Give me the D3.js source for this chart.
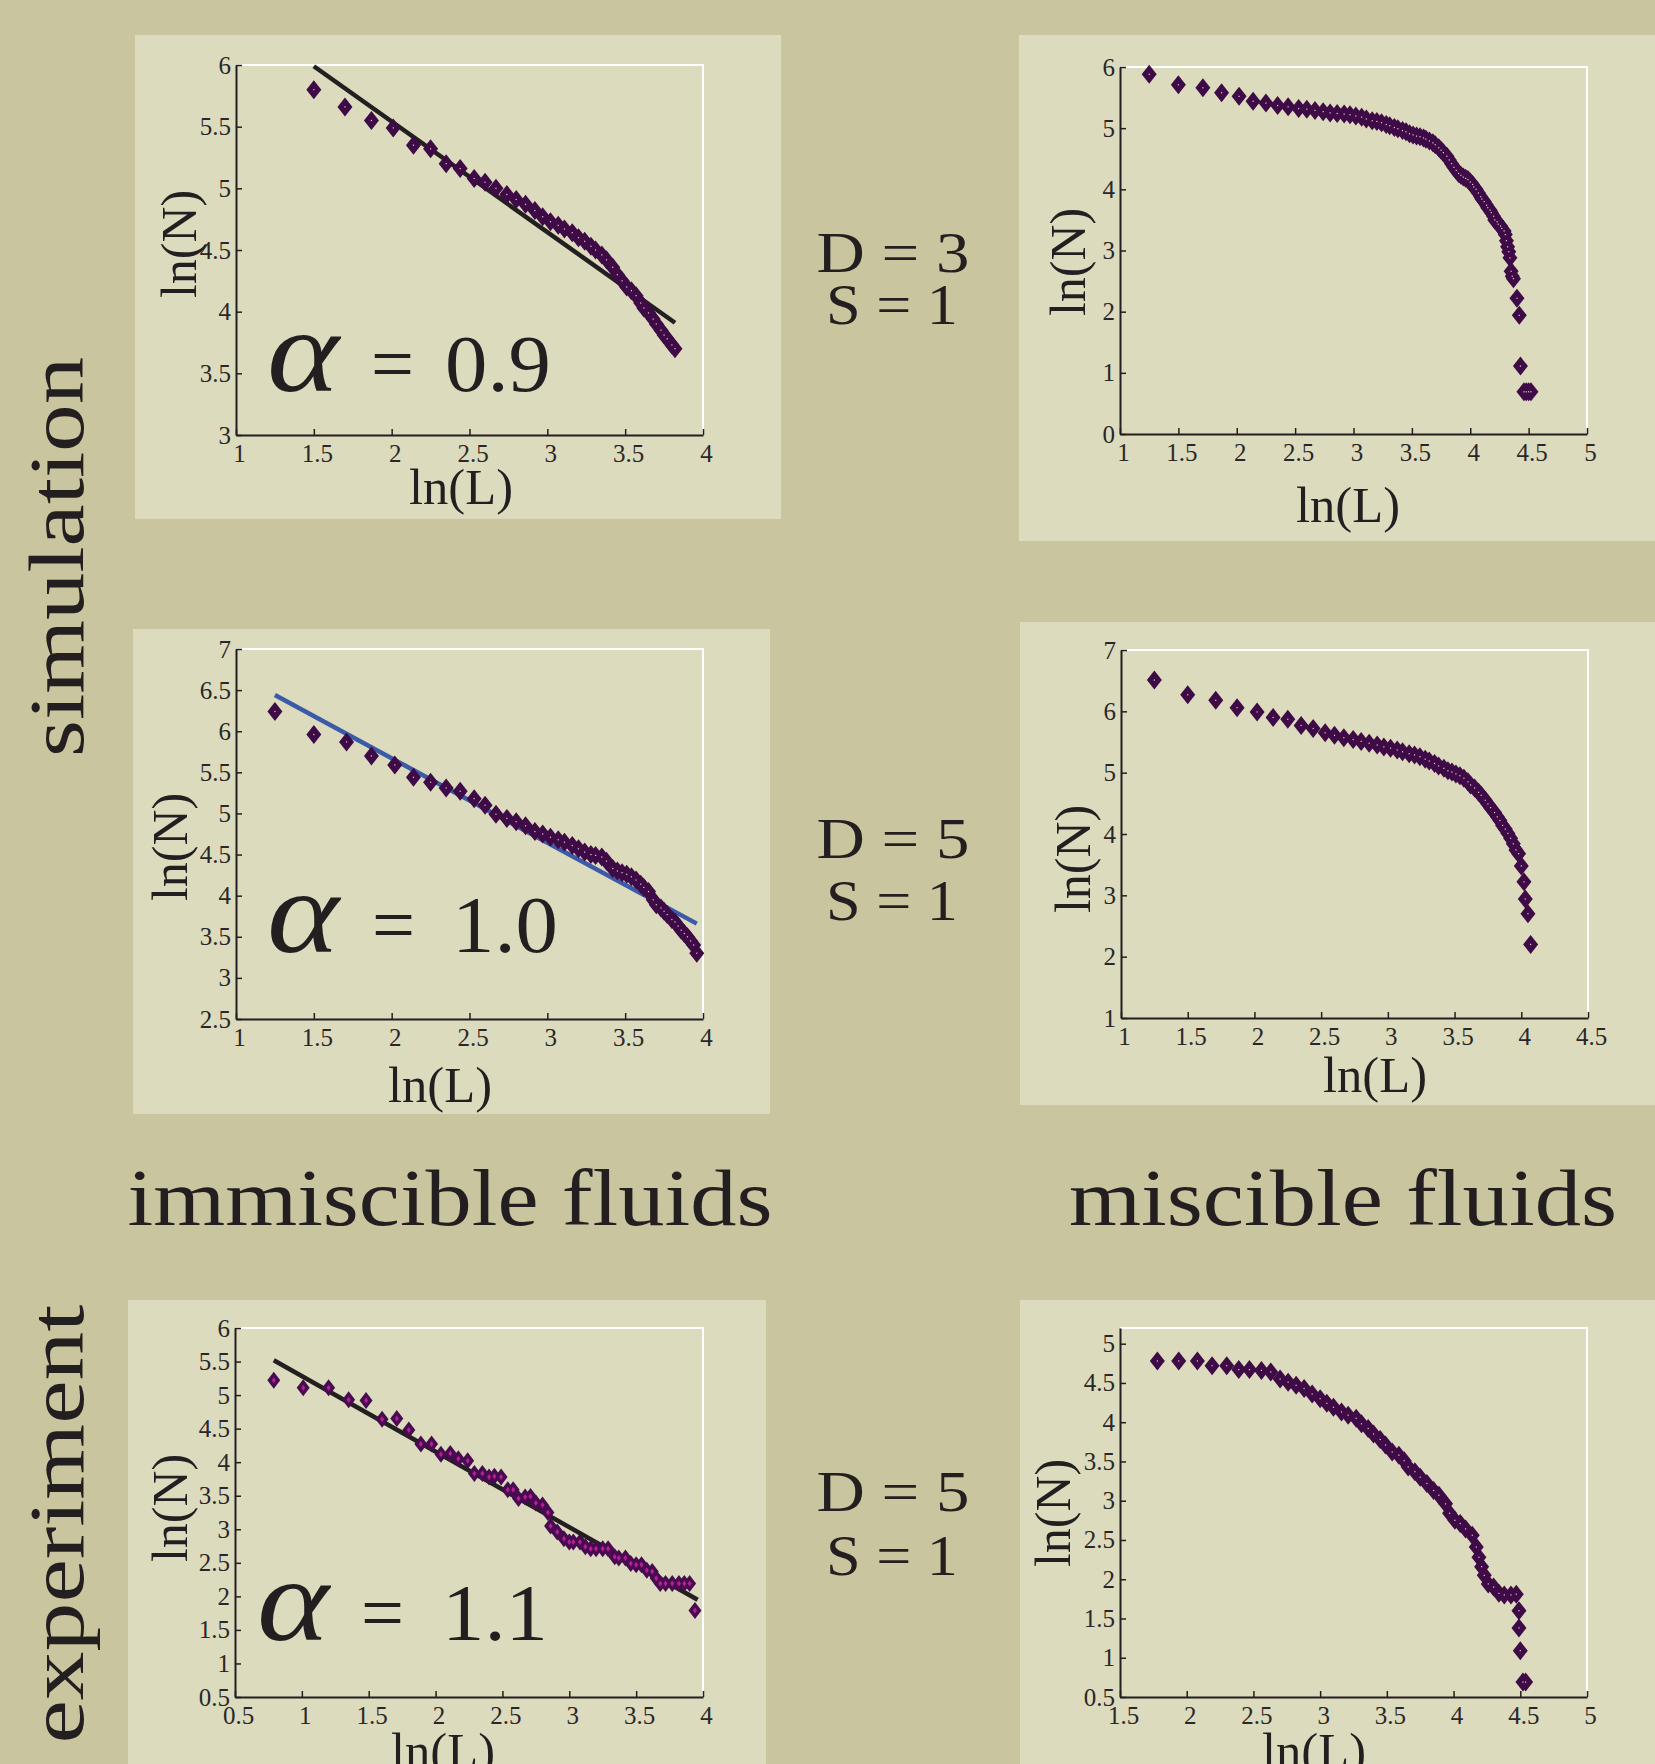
<!DOCTYPE html>
<html><head><meta charset="utf-8">
<script src="https://cdn.jsdelivr.net/npm/d3@7"></script>
<style>body{margin:0;background:#c9c69f;} svg{display:block}</style>
</head><body>
<svg id="c" width="1655" height="1764"></svg>
<script>
// ---------------- data (ln(L), ln(N)) ----------------
const simImmiscible = [[1.50,5.80],[1.70,5.66],[1.87,5.55],[2.01,5.49],[2.14,5.35],[2.25,5.32],[2.35,5.20],[2.44,5.16],[2.53,5.08],[2.60,5.05],[2.67,5.00],[2.74,4.95],[2.80,4.91],[2.86,4.87],[2.92,4.82],[2.97,4.77],[3.02,4.73],[3.07,4.70],[3.11,4.67],[3.16,4.64],[3.20,4.60],[3.24,4.57],[3.28,4.53],[3.31,4.50],[3.35,4.46],[3.38,4.42],[3.42,4.36],[3.45,4.30],[3.48,4.25],[3.51,4.20],[3.54,4.17],[3.57,4.13],[3.60,4.07],[3.62,4.03],[3.65,3.99],[3.68,3.94],[3.70,3.90],[3.73,3.85],[3.75,3.81],[3.77,3.78],[3.80,3.73],[3.82,3.70]];
const simMiscibleD3 = [[1.25,5.88],[1.50,5.71],[1.71,5.66],[1.87,5.58],[2.02,5.52],[2.14,5.44],[2.25,5.41],[2.35,5.37],[2.44,5.35],[2.53,5.32],[2.60,5.31],[2.67,5.29],[2.74,5.27],[2.80,5.25],[2.86,5.24],[2.92,5.23],[2.97,5.22],[3.02,5.20],[3.07,5.18],[3.11,5.15],[3.16,5.12],[3.20,5.11],[3.24,5.09],[3.28,5.06],[3.31,5.04],[3.35,5.01],[3.38,4.99],[3.42,4.96],[3.45,4.94],[3.48,4.91],[3.51,4.89],[3.54,4.87],[3.57,4.86],[3.60,4.84],[3.62,4.82],[3.65,4.79],[3.68,4.76],[3.70,4.73],[3.73,4.68],[3.75,4.64],[3.77,4.60],[3.80,4.54],[3.82,4.48],[3.84,4.42],[3.86,4.36],[3.88,4.31],[3.90,4.26],[3.92,4.23],[3.94,4.20],[3.96,4.18],[3.98,4.16],[4.00,4.12],[4.02,4.08],[4.03,4.04],[4.05,4.00],[4.07,3.94],[4.09,3.88],[4.10,3.84],[4.12,3.80],[4.14,3.74],[4.15,3.70],[4.17,3.66],[4.18,3.62],[4.20,3.56],[4.21,3.50],[4.23,3.47],[4.24,3.43],[4.26,3.40],[4.27,3.36],[4.29,3.32],[4.30,3.26],[4.31,3.16],[4.32,3.06],[4.33,2.98],[4.34,2.88],[4.35,2.66],[4.36,2.58],[4.37,2.54],[4.40,2.22],[4.42,1.94],[4.43,1.11],[4.46,0.69],[4.48,0.69],[4.50,0.69],[4.52,0.69]];
const simImmiscibleD5 = [[1.25,6.24],[1.50,5.96],[1.71,5.87],[1.87,5.70],[2.02,5.59],[2.14,5.44],[2.25,5.38],[2.35,5.31],[2.44,5.27],[2.53,5.18],[2.60,5.10],[2.67,4.99],[2.74,4.94],[2.80,4.90],[2.86,4.85],[2.92,4.78],[2.97,4.75],[3.02,4.71],[3.07,4.68],[3.11,4.65],[3.16,4.61],[3.20,4.57],[3.24,4.53],[3.28,4.50],[3.31,4.49],[3.35,4.47],[3.38,4.42],[3.42,4.33],[3.45,4.30],[3.48,4.28],[3.51,4.26],[3.54,4.23],[3.57,4.19],[3.60,4.14],[3.62,4.10],[3.65,4.05],[3.68,3.95],[3.70,3.89],[3.73,3.85],[3.75,3.81],[3.77,3.77],[3.80,3.71],[3.82,3.68],[3.84,3.63],[3.86,3.58],[3.88,3.54],[3.90,3.50],[3.92,3.45],[3.94,3.40],[3.96,3.30]];
const simMiscibleD5 = [[1.25,6.51],[1.50,6.27],[1.71,6.18],[1.87,6.06],[2.02,5.99],[2.14,5.90],[2.25,5.87],[2.35,5.77],[2.44,5.72],[2.53,5.65],[2.60,5.61],[2.67,5.57],[2.74,5.54],[2.80,5.51],[2.86,5.48],[2.92,5.45],[2.97,5.42],[3.02,5.40],[3.07,5.37],[3.11,5.34],[3.16,5.31],[3.20,5.29],[3.24,5.26],[3.28,5.22],[3.31,5.19],[3.35,5.15],[3.38,5.11],[3.42,5.07],[3.45,5.03],[3.48,5.01],[3.51,4.98],[3.54,4.95],[3.57,4.91],[3.60,4.85],[3.62,4.80],[3.65,4.75],[3.68,4.68],[3.70,4.63],[3.73,4.55],[3.75,4.49],[3.77,4.43],[3.80,4.35],[3.82,4.28],[3.84,4.22],[3.86,4.14],[3.88,4.08],[3.90,4.01],[3.92,3.93],[3.94,3.84],[3.96,3.74],[3.98,3.68],[4.00,3.48],[4.02,3.22],[4.03,2.94],[4.05,2.70],[4.07,2.20]];
const expImmiscible = [[0.79,5.22],[1.01,5.11],[1.20,5.11],[1.35,4.93],[1.48,4.92],[1.60,4.64],[1.71,4.65],[1.80,4.48],[1.89,4.27],[1.97,4.27],[2.04,4.12],[2.11,4.13],[2.17,4.05],[2.24,4.02],[2.29,3.83],[2.35,3.83],[2.40,3.78],[2.44,3.79],[2.49,3.78],[2.54,3.59],[2.58,3.59],[2.62,3.46],[2.67,3.48],[2.71,3.49],[2.75,3.39],[2.80,3.36],[2.84,3.25],[2.86,3.05],[2.91,2.96],[2.96,2.86],[3.00,2.81],[3.03,2.81],[3.08,2.81],[3.12,2.74],[3.16,2.71],[3.20,2.71],[3.25,2.71],[3.29,2.71],[3.34,2.59],[3.37,2.57],[3.42,2.57],[3.46,2.49],[3.50,2.47],[3.54,2.47],[3.58,2.39],[3.62,2.37],[3.65,2.27],[3.68,2.19],[3.72,2.19],[3.77,2.19],[3.82,2.19],[3.86,2.19],[3.90,2.19],[3.94,1.79]];
const expMiscible = [[1.78,4.78],[1.94,4.78],[2.08,4.78],[2.19,4.72],[2.30,4.72],[2.39,4.67],[2.47,4.67],[2.56,4.66],[2.63,4.64],[2.70,4.55],[2.76,4.51],[2.82,4.47],[2.88,4.43],[2.94,4.36],[3.00,4.30],[3.05,4.24],[3.10,4.19],[3.16,4.13],[3.21,4.09],[3.27,4.05],[3.31,3.98],[3.36,3.92],[3.40,3.85],[3.45,3.78],[3.49,3.71],[3.54,3.62],[3.59,3.58],[3.63,3.51],[3.66,3.43],[3.71,3.37],[3.75,3.30],[3.80,3.22],[3.85,3.13],[3.89,3.07],[3.94,2.96],[3.97,2.84],[4.01,2.75],[4.05,2.71],[4.09,2.64],[4.14,2.56],[4.17,2.41],[4.19,2.28],[4.21,2.16],[4.23,2.05],[4.26,1.94],[4.30,1.90],[4.34,1.82],[4.38,1.80],[4.43,1.80],[4.47,1.81],[4.49,1.60],[4.49,1.38],[4.50,1.09],[4.52,0.69],[4.54,0.69]];

const fitSimImmiscible = [[1.50,5.99],[3.82,3.91]];
const fitSimImmiscibleD5 = [[1.25,6.44],[3.96,3.66]];
const fitExpImmiscible = [[0.79,5.52],[3.96,1.95]];

// tick values
const ticksX1to4 = [1,1.5,2,2.5,3,3.5,4];
const ticksY3to6 = [3,3.5,4,4.5,5,5.5,6];
const ticksX1to5 = [1,1.5,2,2.5,3,3.5,4,4.5,5];
const ticksY0to6 = [0,1,2,3,4,5,6];
const ticksY2p5to7 = [2.5,3,3.5,4,4.5,5,5.5,6,6.5,7];
const ticksX1to4p5 = [1,1.5,2,2.5,3,3.5,4,4.5];
const ticksY1to7 = [1,2,3,4,5,6,7];
const ticksX0p5to4 = [0.5,1,1.5,2,2.5,3,3.5,4];
const ticksY0p5to6 = [0.5,1,1.5,2,2.5,3,3.5,4,4.5,5,5.5,6];
const ticksX1p5to5 = [1.5,2,2.5,3,3.5,4,4.5,5];
const ticksY0p5to5 = [0.5,1,1.5,2,2.5,3,3.5,4,4.5,5];

const alphaLabels = ["0.9","1.0","1.1"];
const paramLabels = [["D = 3","S = 1"],["D = 5","S = 1"],["D = 5","S = 1"]];
const rowLabels = ["simulation","experiment"];
const colLabels = ["immiscible fluids","miscible fluids"];

// ---------------- drawing ----------------
const OUTER = "#c9c69f", PANEL = "#dcdbbe", INK = "#231f20", MARK = "#3f0b47";
const SERIF = "'Liberation Serif','DejaVu Serif',serif";
const svg = d3.select("#c");
svg.append("rect").attr("width",1655).attr("height",1764).attr("fill",OUTER);

const panels = [
 {bg:[135,35,781,519], p:[236,703,65,435], xd:[1,4], yd:[3,6], xt:ticksX1to4, yt:ticksY3to6,
  yl:[196,244], xl:[461,504], data:simImmiscible, fit:fitSimImmiscible, fitColor:INK,
  alpha:{a:267,eq:371,num:445,base:391,text:alphaLabels[0]}},
 {bg:[1019,35,1655,541], p:[1120,1587,67,434], xd:[1,5], yd:[0,6], xt:ticksX1to5, yt:ticksY0to6,
  yl:[1085,262], xl:[1348,522], data:simMiscibleD3},
 {bg:[133,629,770,1114], p:[236,703,649,1019], xd:[1,4], yd:[2.5,7], xt:ticksX1to4, yt:ticksY2p5to7,
  yl:[187,847], xl:[440,1102], data:simImmiscibleD5, fit:fitSimImmiscibleD5, fitColor:"#3b5aa8",
  alpha:{a:267,eq:372,num:452,base:952,text:alphaLabels[1]}},
 {bg:[1020,622,1655,1105], p:[1121,1588,650,1018], xd:[1,4.5], yd:[1,7], xt:ticksX1to4p5, yt:ticksY1to7,
  yl:[1090,859], xl:[1375,1092], data:simMiscibleD5},
 {bg:[128,1300,766,1764], p:[235,703,1328,1697], xd:[0.5,4], yd:[0.5,6], xt:ticksX0p5to4, yt:ticksY0p5to6,
  yl:[187,1508], xl:[443,1768], data:expImmiscible, fit:fitExpImmiscible, fitColor:INK, magenta:true,
  alpha:{a:257,eq:361,num:442,base:1640,text:alphaLabels[2]}},
 {bg:[1020,1300,1655,1764], p:[1120,1587,1328,1697], xd:[1.5,5], yd:[0.5,5.2], xt:ticksX1p5to5, yt:ticksY0p5to5,
  yl:[1070,1513], xl:[1314,1768], data:expMiscible}
];

const fmt = d3.format("~g");

function diamond(w,h){ return `M0,${-h}L${w},0L0,${h}L${-w},0Z`; }

panels.forEach(P => {
  const g = svg.append("g");
  g.append("rect").attr("x",P.bg[0]).attr("y",P.bg[1])
    .attr("width",P.bg[2]-P.bg[0]).attr("height",P.bg[3]-P.bg[1]).attr("fill",PANEL);
  const [x0,x1,y0,y1] = P.p;
  const x = d3.scaleLinear().domain(P.xd).range([x0,x1]);
  const y = d3.scaleLinear().domain(P.yd).range([y1,y0]);

  g.append("path").attr("d",`M${x0},${y0}H${x1}V${y1}`).attr("fill","none")
    .attr("stroke","#ffffff").attr("stroke-width",2);

  const ax = g.append("g").attr("transform",`translate(0,${y1})`)
    .call(d3.axisBottom(x).tickValues(P.xt).tickSizeInner(-6).tickSizeOuter(0).tickPadding(9).tickFormat(fmt));
  const ay = g.append("g").attr("transform",`translate(${x0},0)`)
    .call(d3.axisLeft(y).tickValues(P.yt).tickSizeInner(-6).tickSizeOuter(0).tickPadding(5).tickFormat(fmt));
  [ax,ay].forEach(a => {
    a.attr("font-family",SERIF).attr("font-size",25);
    a.select(".domain").attr("stroke",INK).attr("stroke-width",2);
    a.selectAll(".tick line").attr("stroke",INK).attr("stroke-width",1.5);
    a.selectAll(".tick text").attr("fill","#2b2728");
  });
  ax.selectAll(".tick text").attr("dx",3);

  // axis titles
  g.append("text").attr("transform",`translate(${P.yl[0]},${P.yl[1]}) rotate(-90)`)
    .attr("text-anchor","middle").attr("font-family",SERIF).attr("font-size",50)
    .attr("fill",INK).attr("textLength",108).attr("lengthAdjust","spacingAndGlyphs").text("ln(N)");
  g.append("text").attr("x",P.xl[0]).attr("y",P.xl[1])
    .attr("text-anchor","middle").attr("font-family",SERIF).attr("font-size",50)
    .attr("fill",INK).attr("textLength",104).attr("lengthAdjust","spacingAndGlyphs").text("ln(L)");

  // markers
  const pts = g.append("g");
  pts.selectAll("path.m").data(P.data).join("path").attr("class","m")
    .attr("transform",d=>`translate(${x(d[0])},${y(d[1])})`)
    .attr("d", P.magenta ? diamond(6.5,8.5) : diamond(7.5,9.5))
    .attr("fill", P.magenta ? "#470c50" : MARK);
  if (P.magenta) {
    pts.selectAll("path.c").data(P.data).join("path").attr("class","c")
      .attr("transform",d=>`translate(${x(d[0])},${y(d[1])})`)
      .attr("d",diamond(2,3)).attr("fill","#b81d94");
  } else {
    pts.selectAll("rect.c").data(P.data).join("rect").attr("class","c")
      .attr("x",d=>x(d[0])-0.6).attr("y",d=>y(d[1])-0.6).attr("width",1.2).attr("height",1.2)
      .attr("fill","#d8d0d8");
  }

  // fit line
  if (P.fit) {
    g.append("path").datum(P.fit)
      .attr("d", d3.line().x(d=>x(d[0])).y(d=>y(d[1])))
      .attr("stroke",P.fitColor).attr("stroke-width",4.5).attr("fill","none");
    pts.raise();
  }

  // alpha annotation
  if (P.alpha) {
    const A = P.alpha;
    g.append("text").attr("x",A.a).attr("y",A.base).attr("font-family",SERIF)
      .attr("font-style","italic").attr("font-size",118).attr("fill",INK)
      .attr("textLength",72).attr("lengthAdjust","spacingAndGlyphs").text("α");
    g.append("text").attr("x",A.eq).attr("y",A.base).attr("font-family",SERIF)
      .attr("font-size",80).attr("fill",INK)
      .attr("textLength",43).attr("lengthAdjust","spacingAndGlyphs").text("=");
    g.append("text").attr("x",A.num).attr("y",A.base).attr("font-family",SERIF)
      .attr("font-size",80).attr("fill",INK)
      .attr("textLength",106).attr("lengthAdjust","spacingAndGlyphs").text(A.text);
  }
});

// parameter labels between columns
const paramPos = [[272,324],[858,920],[1511,1575]];
paramLabels.forEach((pl,i) => {
  svg.append("text").attr("x",893).attr("y",paramPos[i][0]).attr("text-anchor","middle")
    .attr("font-family",SERIF).attr("font-size",57).attr("fill",INK)
    .attr("textLength",153).attr("lengthAdjust","spacingAndGlyphs").text(pl[0]);
  svg.append("text").attr("x",892).attr("y",paramPos[i][1]).attr("text-anchor","middle")
    .attr("font-family",SERIF).attr("font-size",57).attr("fill",INK)
    .attr("textLength",132).attr("lengthAdjust","spacingAndGlyphs").text(pl[1]);
});

// row labels (rotated)
const rowPos = [[83,557,400],[83,1524,439]];
rowLabels.forEach((t,i) => {
  svg.append("text").attr("transform",`translate(${rowPos[i][0]},${rowPos[i][1]}) rotate(-90)`)
    .attr("text-anchor","middle").attr("font-family",SERIF).attr("font-size",78).attr("fill",INK)
    .attr("textLength",rowPos[i][2]).attr("lengthAdjust","spacingAndGlyphs").text(t);
});

// column labels
const colPos = [[450,1225,645],[1343,1225,548]];
colLabels.forEach((t,i) => {
  svg.append("text").attr("x",colPos[i][0]).attr("y",colPos[i][1]).attr("text-anchor","middle")
    .attr("font-family",SERIF).attr("font-size",80).attr("fill",INK)
    .attr("textLength",colPos[i][2]).attr("lengthAdjust","spacingAndGlyphs").text(t);
});
</script>
</body></html>
